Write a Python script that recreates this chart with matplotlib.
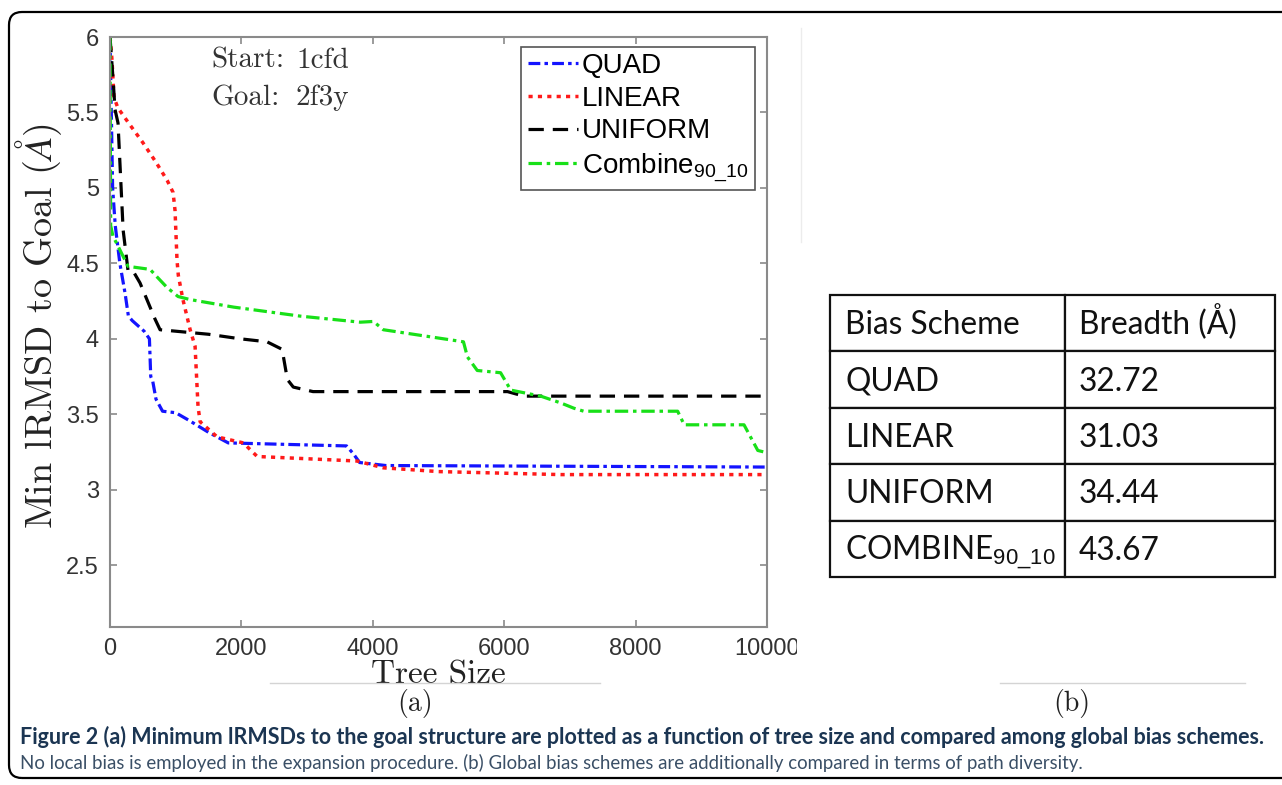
import matplotlib
matplotlib.use('Agg')
import matplotlib.pyplot as plt
from matplotlib.patches import FancyBboxPatch
from matplotlib.lines import Line2D
from matplotlib.transforms import IdentityTransform, Bbox, Affine2D

plt.rcParams['mathtext.fontset'] = 'custom'
plt.rcParams['mathtext.rm'] = 'Liberation Sans'
plt.rcParams['mathtext.it'] = 'Liberation Sans:italic'
plt.rcParams['mathtext.bf'] = 'Liberation Sans:bold'

# min lRMSD (A) vs tree size for each global bias scheme
quad_x = [0, 20, 40, 80, 150, 230, 280, 340, 520, 600, 620, 650, 700, 800, 1000,
          1200, 1500, 1800, 3600, 3700, 3800, 4200, 10000]
quad_y = [6.0, 5.5, 5.0, 4.75, 4.5, 4.3, 4.15, 4.12, 4.05, 4.0, 3.75, 3.72, 3.6,
          3.52, 3.51, 3.46, 3.38, 3.31, 3.29, 3.24, 3.18, 3.16, 3.15]

linear_x = [0, 30, 60, 120, 300, 500, 700, 870, 960, 990, 1020, 1040, 1110, 1220,
            1295, 1340, 1372, 1630, 2030, 2240, 3760, 4160, 5000, 6860, 10000]
linear_y = [6.0, 5.85, 5.6, 5.53, 5.42, 5.3, 5.17, 5.05, 4.97, 4.85, 4.52, 4.42,
            4.26, 4.06, 3.95, 3.55, 3.45, 3.35, 3.31, 3.22, 3.19, 3.145, 3.12,
            3.10, 3.10]

uniform_x = [0, 50, 76, 122, 200, 275, 350, 457, 686, 762, 1500, 1980, 2390,
             2620, 2700, 2790, 3090, 6050, 6300, 10000]
uniform_y = [6.0, 5.7, 5.52, 5.43, 4.72, 4.45, 4.45, 4.37, 4.13, 4.06, 4.03, 4.0,
             3.98, 3.93, 3.73, 3.68, 3.65, 3.65, 3.62, 3.62]

combine_x = [0, 10, 45, 150, 275, 610, 716, 868, 1036, 1219, 1880, 2900, 3810,
             4010, 4160, 5380, 5440, 5590, 5945, 6100, 6555, 6860, 7060, 7210,
             8640, 8740, 9650, 9860, 10000]
combine_y = [6.0, 4.75, 4.68, 4.59, 4.48, 4.46, 4.41, 4.34, 4.28, 4.26, 4.21,
             4.15, 4.11, 4.115, 4.06, 3.98, 3.88, 3.79, 3.775, 3.66, 3.62, 3.575,
             3.54, 3.52, 3.52, 3.43, 3.43, 3.26, 3.245]

series_labels = ['QUAD', 'LINEAR', 'UNIFORM', r'Combine$_{\mathrm{90\_10}}$']

# path diversity table
table_header = ['Bias Scheme', 'Breadth (Å)']
table_schemes = ['QUAD', 'LINEAR', 'UNIFORM', r'COMBINE$_{\mathrm{90\_10}}$']
table_breadth = [32.72, 31.03, 34.44, 43.67]

W, H = 1282, 785
fig = plt.figure(figsize=(W / 100, H / 100), dpi=100)


def fx(x):
    return x / W


def fy(y):
    return 1 - y / H


# ---- panel (a) ----
ax = fig.add_axes([fx(110), fy(627), fx(767) - fx(110), fy(37) - fy(627)])

ax.plot(quad_x, quad_y, color='#1414ff', lw=2.3, dashes=(3.7, 1.3, 1.1, 1.3))
ax.plot(linear_x, linear_y, color='#ff1a1a', lw=2.5, dashes=(1.2, 1.5))
ax.plot(uniform_x, uniform_y, color='black', lw=2.3, dashes=(4.8, 2.8))
ax.plot(combine_x, combine_y, color='#18e018', lw=2.3, dashes=(4.2, 1.5, 1.1, 1.5))

ax.set_xlim(0, 10000)
ax.set_ylim(2.09, 6)
ax.set_xticks([0, 2000, 4000, 6000, 8000, 10000])
yt = [2.5, 3, 3.5, 4, 4.5, 5, 5.5, 6]
ax.set_yticks(yt)
ax.set_yticklabels([f'{v:g}' for v in yt])

for s in ax.spines.values():
    s.set_color('#8a8a8a')
    s.set_linewidth(1.5)
ax.tick_params(direction='in', length=5, width=1.2, color='#8a8a8a',
               top=True, right=True, labelsize=17, labelcolor='#333333', pad=8)
for lab in ax.get_xticklabels() + ax.get_yticklabels():
    lab.set_fontfamily('Liberation Sans')

ax.set_xlabel('Tree Size', fontfamily='cmr10', fontsize=24, color='#222222',
              labelpad=0)
ax.set_ylabel(r'Min lRMSD to Goal ($\mathit{Å}$)', fontfamily='cmr10',
              math_fontfamily='cm', fontsize=27.5, color='#222222')
ax.yaxis.set_label_coords(-0.07, 0.51)

ax.text(0.155, 0.982, 'Start:', transform=ax.transAxes, fontfamily='cmr10',
        fontsize=21, color='#333333', va='top')
ax.text(0.283, 0.982, '1cfd', transform=ax.transAxes, fontfamily='cmr10',
        fontsize=21, color='#333333', va='top')
ax.text(0.155, 0.919, 'Goal:', transform=ax.transAxes, fontfamily='cmr10',
        fontsize=21, color='#333333', va='top')
ax.text(0.283, 0.919, '2f3y', transform=ax.transAxes, fontfamily='cmr10',
        fontsize=21, color='#333333', va='top')

leg = ax.legend(series_labels, loc='upper right', bbox_to_anchor=(0.981, 0.983),
                borderaxespad=0, prop={'family': 'Liberation Sans', 'size': 20},
                handlelength=1.8, handletextpad=0.15, labelspacing=0.24,
                borderpad=0.22, fancybox=False, framealpha=1)
leg.get_frame().set_edgecolor('#555555')
leg.get_frame().set_linewidth(1.2)

# the last x tick label runs past the panel edge and gets cut
last = ax.xaxis.get_major_ticks()[-1].label1
last.set_clip_box(Bbox([[0, 0], [797, H]]))
last.set_clip_on(True)

fig.text(fx(415), fy(703), '(a)', fontfamily='cmr10', fontsize=20,
         color='#222222', ha='center', va='center')

# ---- panel (b) ----
axt = fig.add_axes([fx(830), fy(577), fx(1275) - fx(830), fy(295) - fy(577)])
axt.axis('off')
cells = [table_header] + [[s, f'{b:.2f}'] for s, b in zip(table_schemes, table_breadth)]
tbl = axt.table(cellText=cells, bbox=[0, 0, 1, 1], colWidths=[0.528, 0.472],
                cellLoc='left')
tbl.auto_set_font_size(False)
tbl.set_fontsize(22.8)
for cell in tbl.get_celld().values():
    cell.set_linewidth(1.6)
    cell.set_edgecolor('#111111')
    cell.PAD = 0.065
    txt = cell.get_text()
    txt.set_fontfamily('Lato')
    txt.set_color('#111111')
    # sit every row on a common baseline, a bit below the cell middle
    txt.set_va('baseline')
    txt.set_transform(Affine2D().translate(0, -11))

fig.text(fx(1072), fy(703), '(b)', fontfamily='cmr10', fontsize=20,
         color='#222222', ha='center', va='center')

# faint seams around the two panels
fig.add_artist(Line2D([fx(270), fx(600)], [fy(683), fy(683)], color='#d4d4d4', lw=1))
fig.add_artist(Line2D([fx(1000), fx(1245)], [fy(683), fy(683)], color='#d4d4d4', lw=1))
fig.add_artist(Line2D([fx(801), fx(801)], [fy(28), fy(242)], color='#ececec', lw=1))

# ---- caption ----
fig.text(fx(20), fy(737), 'Figure 2 (a) Minimum lRMSDs to the goal structure are plotted '
         'as a function of tree size and compared among global bias schemes.',
         fontfamily='Lato', fontweight='bold', fontsize=15.5, color='#1b3552',
         va='center')
fig.text(fx(20), fy(763), 'No local bias is employed in the expansion procedure. '
         '(b) Global bias schemes are additionally compared in terms of path diversity.',
         fontfamily='Lato', fontsize=13.4, color='#3a4f66', va='center')

# outer frame with rounded corners
frame = FancyBboxPatch((9, 7), 1320, 766, boxstyle='round,pad=0,rounding_size=13',
                       transform=IdentityTransform(), fill=False, ec='black', lw=1.6)
fig.add_artist(frame)

fig.savefig('out.png', dpi=100)
